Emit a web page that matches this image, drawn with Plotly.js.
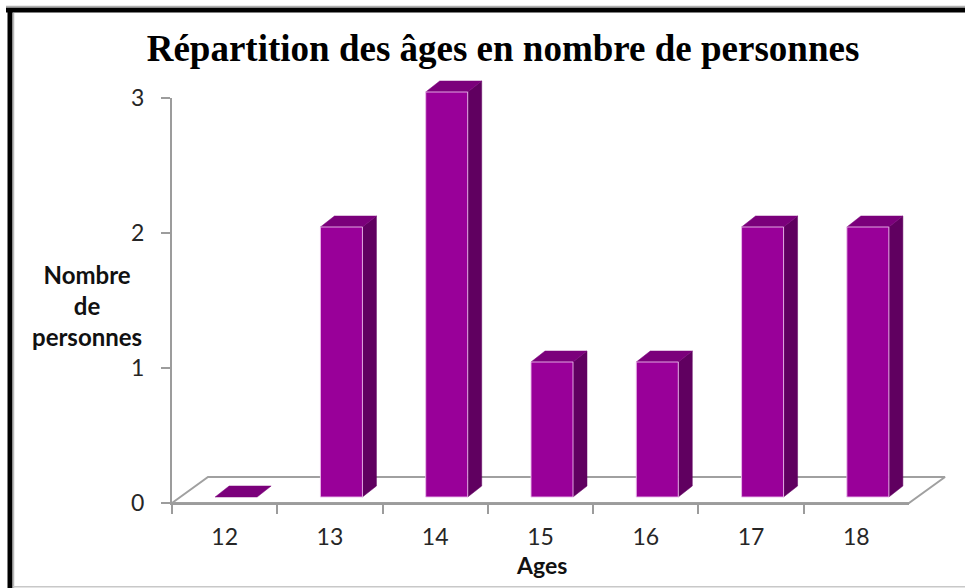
<!DOCTYPE html>
<html>
<head>
<meta charset="utf-8">
<script src="https://cdn.plot.ly/plotly-3.0.1.min.js"></script>
<style>html,body{margin:0;padding:0;background:#fff;}#chart{width:965px;height:588px;}</style>
</head>
<body>
<div id="chart"></div>
<script>
// ---- data ----
const ages = ['12', '13', '14', '15', '16', '17', '18'];
const counts = [0, 2, 3, 1, 1, 2, 2];
const yTickVals = [0, 1, 2, 3];
const titleText = 'Répartition des âges en nombre de personnes';
const xTitleText = 'Ages';
const yTitleText = 'Nombre<br>de<br>personnes';

// ---- geometry (pixels of the 965x588 page) ----
const W = 965, H = 588;
const axL = 172, axR = 909, axB = 503, axT = 98;
const catW = (axR - axL) / ages.length;
const unit = (axB - axT) / 3;
const barOff = 11.5 / catW, barW = 42 / catW, barBase = 6 / unit;
const depX = 14 / catW, depY = 11 / unit;
const floorX = 36 / catW, floorY = 26 / unit;

const colFront = '#990099', colSide = '#600060', colTop = '#7b007b';
const edge = 'rgba(235,185,235,0.9)';

const traces = [];
// floor (parallelogram outline)
const fx0 = -0.5, fx1 = ages.length - 0.5;
traces.push({
  x: [fx0, fx0 + floorX, fx1 + floorX, fx1, fx0],
  y: [0, floorY, floorY, 0, 0],
  mode: 'lines', line: {color: '#a0a0a0', width: 2},
  hoverinfo: 'skip', showlegend: false, xaxis: 'x', yaxis: 'y'
});

counts.forEach((v, i) => {
  const left = i + barOff - barW / 2;
  const right = left + barW;
  const y0 = barBase, y1 = barBase + v;
  if (v > 0) {
    traces.push({
      x: [right, right + depX, right + depX, right, right],
      y: [y0, y0 + depY, y1 + depY, y1, y0],
      mode: 'lines', fill: 'toself', fillcolor: colSide,
      line: {color: colSide, width: 0.5},
      hoverinfo: 'skip', showlegend: false
    });
  }
  traces.push({
    x: [left, left + depX, right + depX, right, left],
    y: [y1, y1 + depY, y1 + depY, y1, y1],
    mode: 'lines', fill: 'toself', fillcolor: colTop,
    line: {color: colTop, width: 0.5},
    hoverinfo: 'skip', showlegend: false
  });
  if (v > 0) {
    traces.push({
      x: [left, right, right, left, left],
      y: [y0, y0, y1, y1, y0],
      mode: 'lines', fill: 'toself', fillcolor: colFront,
      line: {color: edge, width: 1},
      hoverinfo: 'skip', showlegend: false
    });
  }
});

// invisible trace to carry the category axis of the axes subplot
traces.push({
  x: ages, y: counts, xaxis: 'x2', yaxis: 'y2',
  mode: 'markers', marker: {opacity: 0}, hoverinfo: 'skip', showlegend: false
});

const tickFont = {family: 'Lato, "Liberation Sans", sans-serif', size: 23, color: '#262626'};
const axisCol = '#9c9c9c';

const layout = {
  width: W, height: H,
  margin: {l: 0, r: 0, t: 0, b: 0},
  paper_bgcolor: '#ffffff', plot_bgcolor: 'rgba(0,0,0,0)',
  showlegend: false,
  title: {
    text: '<b>' + titleText + '</b>',
    font: {family: '"Liberation Serif", "Times New Roman", serif', size: 37, color: '#000'},
    x: 503 / W, xanchor: 'center', xref: 'paper',
    y: 1 - 48 / H, yanchor: 'middle', yref: 'paper'
  },
  xaxis: {
    domain: [0, 1], range: [(0 - axL) / catW - 0.5, (W - axL) / catW - 0.5],
    visible: false, fixedrange: true
  },
  yaxis: {
    domain: [0, 1], range: [(axB - H) / unit, axB / unit],
    visible: false, fixedrange: true
  },
  xaxis2: {
    domain: [axL / W, axR / W], anchor: 'y2',
    type: 'category', range: [-0.5, ages.length - 0.5],
    showline: true, linecolor: axisCol, linewidth: 2,
    ticks: 'outside', tickson: 'boundaries', ticklen: 9, tickwidth: 2, tickcolor: axisCol,
    showgrid: false, zeroline: false, tickfont: tickFont, ticklabelstandoff: 12,
    fixedrange: true
  },
  yaxis2: {
    domain: [1 - axB / H, 1 - axT / H], anchor: 'x2',
    range: [0, 3], tickvals: yTickVals,
    showline: true, linecolor: axisCol, linewidth: 2,
    ticks: 'outside', ticklen: 9, tickwidth: 2, tickcolor: axisCol,
    showgrid: false, zeroline: false, tickfont: tickFont, ticklabelstandoff: 12,
    fixedrange: true
  },
  annotations: [
    {
      text: '<b>' + yTitleText + '</b>', xref: 'paper', yref: 'paper',
      x: 87 / W, y: 1 - 305 / H, xanchor: 'center', yanchor: 'middle',
      showarrow: false, align: 'center',
      font: {family: 'Lato, "Liberation Sans", sans-serif', size: 24, color: '#111'}
    },
    {
      text: '<b>' + xTitleText + '</b>', xref: 'paper', yref: 'paper',
      x: 541 / W, y: 1 - 565 / H, xanchor: 'center', yanchor: 'middle',
      showarrow: false,
      font: {family: 'Lato, "Liberation Sans", sans-serif', size: 23, color: '#111'}
    }
  ],
  shapes: [
    {type: 'line', xref: 'paper', yref: 'paper', x0: 6 / W, x1: 1, y0: 1 - 10 / H, y1: 1 - 10 / H,
      line: {color: '#000', width: 5}},
    {type: 'line', xref: 'paper', yref: 'paper', x0: 6 / W, x1: 1, y0: 1 - 6.5 / H, y1: 1 - 6.5 / H,
      line: {color: '#b0b0b0', width: 1.5}},
    {type: 'line', xref: 'paper', yref: 'paper', x0: 10 / W, x1: 10 / W, y0: 0, y1: 1 - 8 / H,
      line: {color: '#000', width: 5}},
    {type: 'line', xref: 'paper', yref: 'paper', x0: 13.5 / W, x1: 13.5 / W, y0: 0, y1: 1 - 13 / H,
      line: {color: '#b8b8b8', width: 1.5}},
    {type: 'line', xref: 'paper', yref: 'paper', x0: 13 / W, x1: 1, y0: 1.2 / H, y1: 1.2 / H,
      line: {color: '#c8c8c8', width: 1.5}}
  ]
};

Plotly.newPlot('chart', traces, layout, {staticPlot: true, displayModeBar: false});
</script>
</body>
</html>
